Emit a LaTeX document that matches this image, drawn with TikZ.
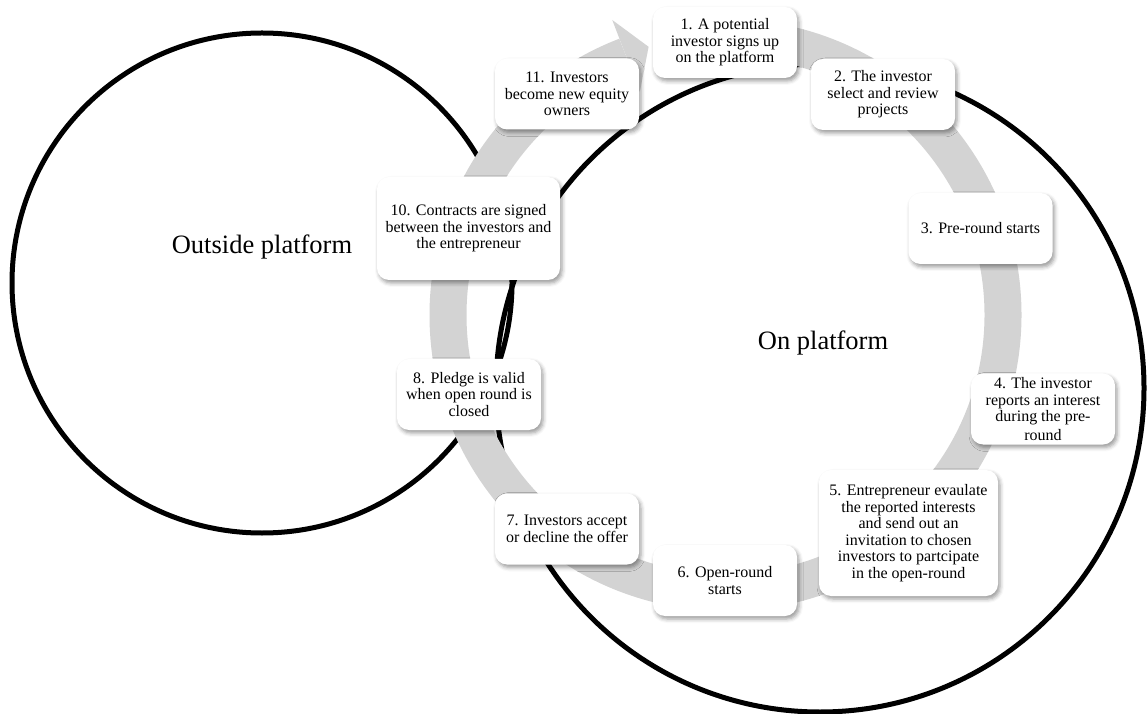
\documentclass[tikz,border=0pt]{standalone}
\usepackage{fontspec}
\setmainfont{Liberation Serif}
\usetikzlibrary{shadows.blur}

\definecolor{ringgray}{RGB}{211,211,211}
\tikzset{
	stepbox/.style={fill=white, rounded corners=12pt, minimum width=144pt, minimum height=71pt,
		align=center, inner sep=3pt, font=\fontsize{16}{16.5}\selectfont,
		blur shadow={shadow xshift=2pt, shadow yshift=-3pt, shadow blur radius=4pt, shadow opacity=40}},
	zone/.style={draw=black, line width=5pt},
	zonelabel/.style={font=\fontsize{26.5}{30}\selectfont},
	ring/.style={draw=ringgray, line width=37pt}
}

\begin{document}
\begin{tikzpicture}[x=1pt, y=1pt]
	\useasboundingbox (0,0) rectangle (1148,713);

	% Zonas: fuera y dentro de la plataforma
	\coordinate (outc) at (262,430);
	\coordinate (onc) at (820,325);
	\draw[zone] (outc) circle[radius=250];
	\draw[zone] (onc) circle[radius=324];
	\node[zonelabel] (outl) at (262,466) {Outside platform};
	\node[zonelabel] (onl) at (823,370) {On platform};

	% Anillo con flecha
	\coordinate (ringc) at (725.5,398);
	\begin{scope}[shift={(ringc)}]
		\draw[ring] (88:277.5) arc[start angle=88, end angle=-249, radius=277.5];
		\fill[ringgray] (111:316) -- (106:279) -- (111:239) -- cycle;
	\end{scope}

	% Pasos
	\node[stepbox] (s1) at (725,670.5) {1. A potential\\investor signs up\\on the platform};
	\node[stepbox] (s2) at (883,618.5) {2. The investor\\select and review\\projects};
	\node[stepbox] (s3) at (980.5,484.5) {3. Pre-round starts};
	\node[stepbox] (s4) at (1043,304) {4. The investor\\reports an interest\\during the pre-\\[2pt]round};
	\node[stepbox, minimum width=179pt, minimum height=126pt] (s5) at (908.5,180)
		{5. Entrepreneur evaulate\\the reported interests\\and send out an\\invitation to chosen\\investors to partcipate\\in the open-round};
	\node[stepbox] (s6) at (725,132.5) {6. Open-round\\starts};
	\node[stepbox] (s7) at (567,184) {7. Investors accept\\or decline the offer};
	\node[stepbox] (s8) at (469,318.5) {8. Pledge is valid\\when open round is\\closed};
	\node[stepbox, minimum width=183pt, minimum height=103pt] (s10) at (468.5,484.5)
		{10. Contracts are signed\\between the investors and\\the entrepreneur};
	\node[stepbox] (s11) at (567,619) {11. Investors\\become new equity\\owners};

\end{tikzpicture}
\end{document}
